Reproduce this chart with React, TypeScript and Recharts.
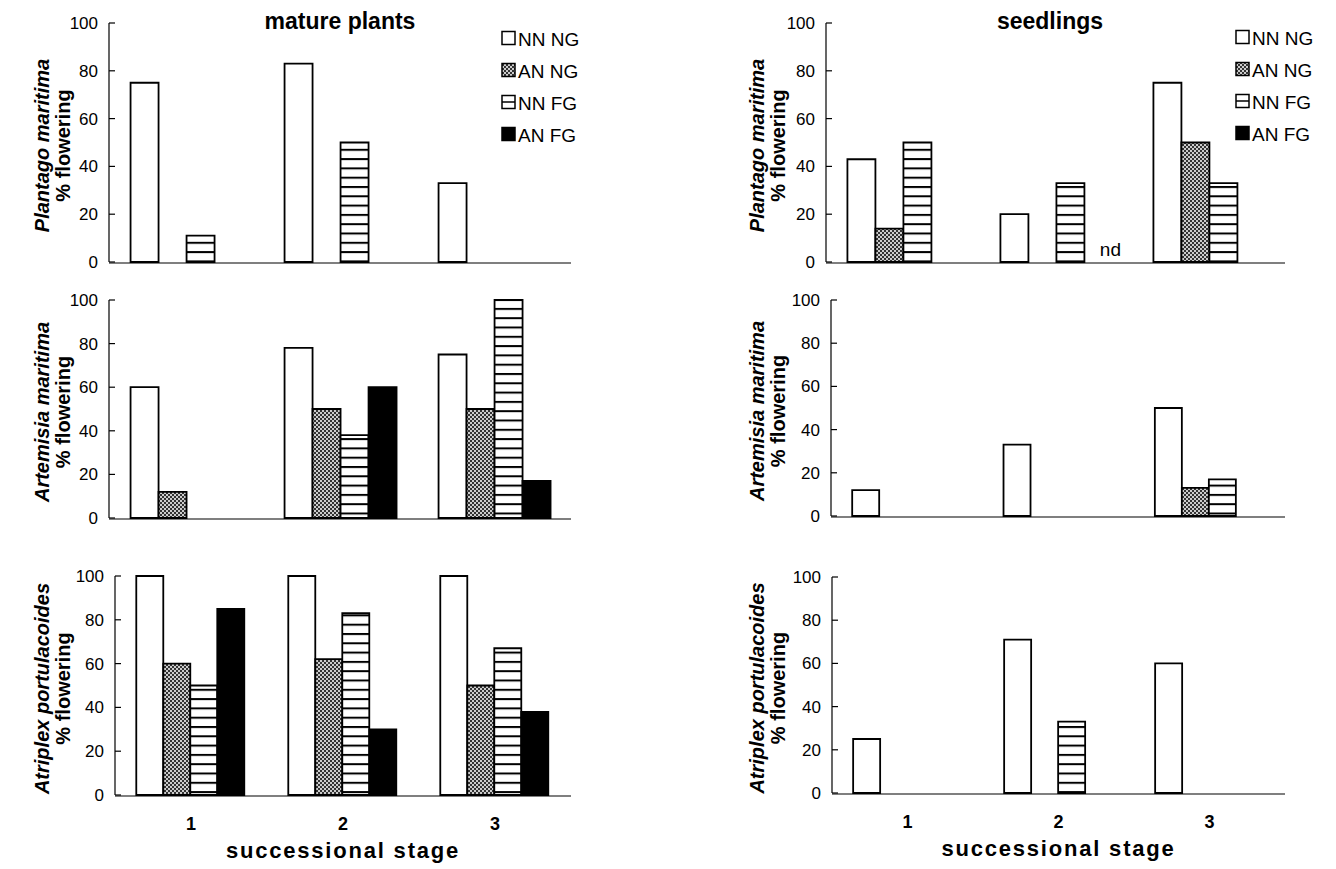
import React from 'react';
import { BarChart, Bar, XAxis, YAxis, Rectangle } from 'recharts';

const stages = ['1', '2', '3'];
const seriesNames = ['NN NG', 'AN NG', 'NN FG', 'AN FG'];
const yTicks = [0, 20, 40, 60, 80, 100];
const boundaryTicks = [1, 2, 3];

// mature plants
const matPlantagoNNNG = [75, 83, 33];
const matPlantagoANNG = [0, 0, 0];
const matPlantagoNNFG = [11, 50, 0];
const matPlantagoANFG = [0, 0, 0];

const matArtemisiaNNNG = [60, 78, 75];
const matArtemisiaANNG = [12, 50, 50];
const matArtemisiaNNFG = [0, 38, 100];
const matArtemisiaANFG = [0, 60, 17];

const matAtriplexNNNG = [100, 100, 100];
const matAtriplexANNG = [60, 62, 50];
const matAtriplexNNFG = [50, 83, 67];
const matAtriplexANFG = [85, 30, 38];

// seedlings
const seedPlantagoNNNG = [43, 20, 75];
const seedPlantagoANNG = [14, 0, 50];
const seedPlantagoNNFG = [50, 33, 33];
const seedPlantagoANFG = [0, 0, 0];
const seedPlantagoNotes = ['', 'nd', ''];

const seedArtemisiaNNNG = [12, 33, 50];
const seedArtemisiaANNG = [0, 0, 13];
const seedArtemisiaNNFG = [0, 0, 17];
const seedArtemisiaANFG = [0, 0, 0];

const seedAtriplexNNNG = [25, 71, 60];
const seedAtriplexANNG = [0, 0, 0];
const seedAtriplexNNFG = [0, 33, 0];
const seedAtriplexANFG = [0, 0, 0];

const FONT = '"Liberation Sans", Arial, Helvetica, sans-serif';

type Row = { stage: string; nnng: number; anng: number; nnfg: number; anfg: number; note: string };

function makeData(a: number[], b: number[], c: number[], d: number[], notes?: string[]): Row[] {
  return stages.map((s, i) => ({
    stage: s,
    nnng: a[i],
    anng: b[i],
    nnfg: c[i],
    anfg: d[i],
    note: notes ? notes[i] : '',
  }));
}

type PanelProps = {
  left: number;
  top: number;
  width: number;
  height: number;
  margin: { top: number; right: number; bottom: number; left: number };
  yAxisWidth: number;
  data: Row[];
  species: string;
  speciesX: number;
  flowerX: number;
  showX: boolean;
};

function Panel(p: PanelProps) {
  const yLabel = (props: any) => {
    const vb = props.viewBox || {};
    const cy = vb.y + vb.height / 2 + 3;
    const sx = vb.x + p.speciesX;
    const fx = vb.x + p.flowerX;
    return (
      <g>
        <text
          x={sx}
          y={cy}
          transform={`rotate(-90 ${sx} ${cy})`}
          textAnchor="middle"
          dominantBaseline="central"
          fontFamily={FONT}
          fontSize={20}
          fontWeight="bold"
          fontStyle="italic"
          fill="#000"
        >
          {p.species}
        </text>
        <text
          x={fx}
          y={cy}
          transform={`rotate(-90 ${fx} ${cy})`}
          textAnchor="middle"
          dominantBaseline="central"
          fontFamily={FONT}
          fontSize={20}
          fontWeight="bold"
          fill="#000"
        >
          % flowering
        </text>
      </g>
    );
  };

  const xLabel = (props: any) => {
    const vb = props.viewBox || {};
    return (
      <text
        x={vb.x + vb.width / 2}
        y={vb.y + 63}
        textAnchor="middle"
        fontFamily={FONT}
        fontSize={22}
        fontWeight="bold"
        letterSpacing={1.8}
        fill="#000"
      >
        successional stage
      </text>
    );
  };

  // AN FG bar shape: draws the bar and, where the data carries a note (e.g. "nd"), the note in the bar's slot
  const anfgShape = (props: any) => {
    const { x, y, width, height, payload } = props;
    const note = payload && payload.note;
    return (
      <g>
        {height > 0 && <Rectangle {...props} />}
        {note ? (
          <text
            x={x + width / 2 + 12}
            y={y + Math.max(height, 0) - 6}
            textAnchor="middle"
            fontFamily={FONT}
            fontSize={19}
            fill="#000"
          >
            {note}
          </text>
        ) : null}
      </g>
    );
  };

  return (
    <div style={{ position: 'absolute', left: p.left, top: p.top, width: p.width, height: p.height }}>
      <BarChart
        width={p.width}
        height={p.height}
        data={p.data}
        margin={p.margin}
        barGap={0}
        barCategoryGap="14%"
      >
        <XAxis
          xAxisId="edge"
          type="number"
          domain={[0, 3]}
          ticks={boundaryTicks}
          height={1}
          tick={false}
          tickSize={-5}
          allowDataOverflow
          axisLine={{ stroke: '#000', strokeWidth: 1.2 }}
          tickLine={{ stroke: '#000', strokeWidth: 1.2 }}
        />
        <XAxis
          xAxisId="cat"
          dataKey="stage"
          type="category"
          height={1}
          axisLine={false}
          tickLine={false}
          tickSize={0}
          tickMargin={22}
          tick={p.showX ? { fontFamily: FONT, fontSize: 18, fontWeight: 'bold', fill: '#000' } : false}
          label={p.showX ? xLabel : undefined}
        />
        <YAxis
          type="number"
          domain={[0, 100]}
          ticks={yTicks}
          interval={0}
          width={p.yAxisWidth}
          tickSize={-6}
          tickMargin={17}
          axisLine={{ stroke: '#000', strokeWidth: 1.2 }}
          tickLine={{ stroke: '#000', strokeWidth: 1.2 }}
          tick={{ fontFamily: FONT, fontSize: 17, fill: '#000' }}
          label={yLabel}
        />
        <Bar xAxisId="cat" dataKey="nnng" name={seriesNames[0]} fill="#fff" stroke="#000" strokeWidth={1.8} isAnimationActive={false} />
        <Bar xAxisId="cat" dataKey="anng" name={seriesNames[1]} fill="url(#dotsPat)" stroke="#000" strokeWidth={1.8} isAnimationActive={false} />
        <Bar xAxisId="cat" dataKey="nnfg" name={seriesNames[2]} fill="url(#stripePat)" stroke="#000" strokeWidth={1.8} isAnimationActive={false} />
        <Bar
          xAxisId="cat"
          dataKey="anfg"
          name={seriesNames[3]}
          fill="#000"
          stroke="#000"
          strokeWidth={1.8}
          isAnimationActive={false}
          shape={anfgShape}
        />
      </BarChart>
    </div>
  );
}

function LegendBlock({ x, y, step }: { x: number; y: number; step: number }) {
  const fills = ['#fff', 'url(#dotsPat)', '#fff', '#000'];
  const s = 13;
  return (
    <g>
      {seriesNames.map((name, i) => {
        const cy = y + i * step;
        return (
          <g key={name}>
            <rect x={x} y={cy - s / 2} width={s} height={s} fill={fills[i]} stroke="#000" strokeWidth={1.5} />
            {i === 2 && <line x1={x} x2={x + s} y1={cy} y2={cy} stroke="#000" strokeWidth={1.5} />}
            <text x={x + s + 3} y={cy + 1} dominantBaseline="central" fontFamily={FONT} fontSize={19} fill="#000">
              {name}
            </text>
          </g>
        );
      })}
    </g>
  );
}

export default function App() {
  const leftCol = { left: 0, width: 600 };
  const rightCol = { left: 660, width: 676 };
  return (
    <div style={{ position: 'absolute', left: 0, top: 0, width: 1336, height: 869, background: '#fff', overflow: 'hidden' }}>
      <svg width={0} height={0} style={{ position: 'absolute' }}>
        <defs>
          <pattern id="dotsPat" patternUnits="userSpaceOnUse" width={4} height={4}>
            <rect x={0} y={0} width={4} height={4} fill="#333" />
            <circle cx={1} cy={1} r={1} fill="#fff" />
            <circle cx={3} cy={3} r={1} fill="#fff" />
          </pattern>
          <pattern id="stripePat" patternUnits="userSpaceOnUse" width={10} height={9.3}>
            <rect x={0} y={0} width={10} height={9.3} fill="#fff" />
            <rect x={0} y={0} width={10} height={2} fill="#000" />
          </pattern>
        </defs>
      </svg>

      <Panel
        left={leftCol.left}
        top={0}
        width={leftCol.width}
        height={280}
        margin={{ top: 23, right: 29, bottom: 16, left: 0 }}
        yAxisWidth={109}
        data={makeData(matPlantagoNNNG, matPlantagoANNG, matPlantagoNNFG, matPlantagoANFG)}
        species="Plantago maritima"
        speciesX={42}
        flowerX={63}
        showX={false}
      />
      <Panel
        left={leftCol.left}
        top={280}
        width={leftCol.width}
        height={260}
        margin={{ top: 20, right: 29, bottom: 20, left: 0 }}
        yAxisWidth={109}
        data={makeData(matArtemisiaNNNG, matArtemisiaANNG, matArtemisiaNNFG, matArtemisiaANFG)}
        species="Artemisia maritima"
        speciesX={42}
        flowerX={63}
        showX={false}
      />
      <Panel
        left={leftCol.left}
        top={540}
        width={leftCol.width}
        height={329}
        margin={{ top: 36, right: 29, bottom: 72, left: 0 }}
        yAxisWidth={115}
        data={makeData(matAtriplexNNNG, matAtriplexANNG, matAtriplexNNFG, matAtriplexANFG)}
        species="Atriplex portulacoides"
        speciesX={42}
        flowerX={63}
        showX={true}
      />

      <Panel
        left={rightCol.left}
        top={0}
        width={rightCol.width}
        height={280}
        margin={{ top: 23, right: 51, bottom: 16, left: 0 }}
        yAxisWidth={166}
        data={makeData(seedPlantagoNNNG, seedPlantagoANNG, seedPlantagoNNFG, seedPlantagoANFG, seedPlantagoNotes)}
        species="Plantago maritima"
        speciesX={97}
        flowerX={118}
        showX={false}
      />
      <Panel
        left={rightCol.left}
        top={280}
        width={rightCol.width}
        height={260}
        margin={{ top: 20, right: 51, bottom: 22, left: 0 }}
        yAxisWidth={171}
        data={makeData(seedArtemisiaNNNG, seedArtemisiaANNG, seedArtemisiaNNFG, seedArtemisiaANFG)}
        species="Artemisia maritima"
        speciesX={97}
        flowerX={118}
        showX={false}
      />
      <Panel
        left={rightCol.left}
        top={540}
        width={rightCol.width}
        height={329}
        margin={{ top: 37, right: 51, bottom: 74, left: 0 }}
        yAxisWidth={172}
        data={makeData(seedAtriplexNNNG, seedAtriplexANNG, seedAtriplexNNFG, seedAtriplexANFG)}
        species="Atriplex portulacoides"
        speciesX={97}
        flowerX={118}
        showX={true}
      />

      <svg width={1336} height={869} style={{ position: 'absolute', left: 0, top: 0, pointerEvents: 'none' }}>
        <text x={340} y={29} textAnchor="middle" fontFamily={FONT} fontSize={23} fontWeight="bold" fill="#000">
          mature plants
        </text>
        <text x={1050} y={29} textAnchor="middle" fontFamily={FONT} fontSize={23} fontWeight="bold" fill="#000">
          seedlings
        </text>
        <LegendBlock x={502} y={38} step={32} />
        <LegendBlock x={1236} y={37} step={32} />
      </svg>
    </div>
  );
}
